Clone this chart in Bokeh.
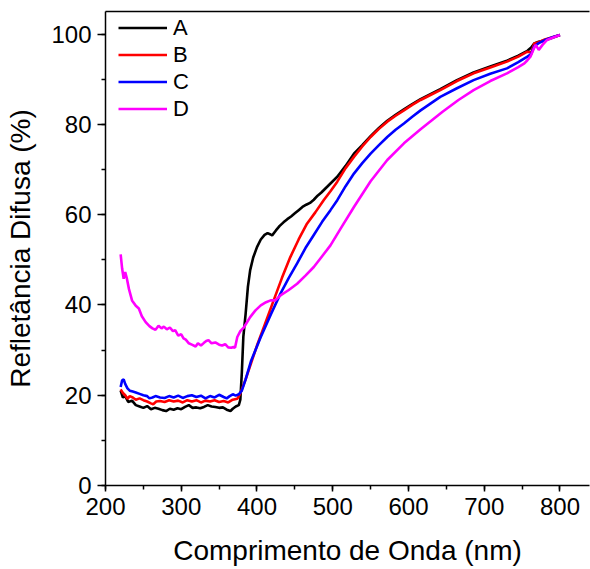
from bokeh.plotting import figure
from bokeh.models import LinearAxis, SingleIntervalTicker, FixedTicker, Legend, LegendItem, Range1d
from bokeh.embed import file_html
from bokeh.resources import INLINE

# ---- data ----
wl_A = [220, 223, 226, 230, 235, 240, 245, 250, 255, 260, 265, 270, 275, 280, 285, 290, 295, 300,
        305, 310, 315, 320, 325, 330, 335, 340, 345, 350, 355, 360, 365, 368, 372, 376, 378, 380,
        382, 385, 388, 391, 395, 400, 405, 410, 414, 418, 420, 425, 430, 435, 440, 445, 450, 455,
        460, 465, 470, 475, 480, 485, 497, 506, 517, 528, 539, 550, 561, 572, 583, 594, 605, 616,
        629, 642, 664, 686, 708, 730, 745, 757, 762, 766, 772, 779, 790, 800]
refl_A = [21.0, 19.5, 19.8, 18.5, 18.8, 17.8, 17.5, 17.2, 17.6, 16.9, 17.2, 17.0, 16.7, 16.5, 17.0,
          16.8, 17.1, 16.9, 17.4, 17.8, 17.2, 17.3, 17.1, 17.4, 17.8, 17.5, 17.4, 17.2, 17.3, 16.8,
          16.5, 17.0, 17.5, 17.8, 19.0, 25.0, 33.0, 38.0, 44.0, 47.7, 50.5, 52.8, 54.5, 55.5, 55.9,
          55.6, 55.4, 56.5, 57.5, 58.3, 59.0, 59.6, 60.3, 61.0, 61.7, 62.2, 62.6, 63.3, 64.2, 64.9,
          66.9, 68.4, 70.8, 73.5, 75.4, 77.4, 79.2, 80.8, 82.1, 83.3, 84.5, 85.6, 86.7, 87.8, 89.8,
          91.5, 92.8, 94.1, 95.2, 96.3, 97.0, 97.9, 98.3, 98.6, 99.2, 99.8]

wl_B = [220, 223, 226, 229, 232, 236, 240, 245, 250, 255, 260, 263, 267, 272, 278, 284, 290, 296,
        302, 308, 314, 320, 326, 332, 338, 344, 350, 356, 362, 368, 374, 378, 385, 392, 400, 410,
        422, 433, 444, 455, 466, 477, 488, 497, 506, 517, 528, 539, 550, 561, 572, 583, 594, 605,
        616, 629, 642, 664, 686, 708, 730, 745, 757, 762, 766, 772, 780, 790, 800]
refl_B = [21.3, 20.5, 20.0, 19.2, 19.8, 19.5, 19.0, 19.3, 18.9, 18.6, 18.2, 18.0, 18.6, 18.7, 18.5,
          18.9, 18.6, 18.8, 18.4, 18.9, 18.6, 18.9, 18.4, 18.8, 18.6, 18.9, 18.5, 18.7, 18.4, 19.0,
          19.2, 20.4, 23.5, 27.0, 31.0, 35.5, 41.0, 46.0, 50.6, 54.5, 58.0, 60.5, 63.2, 65.2, 67.3,
          70.3, 72.8, 75.1, 77.2, 79.0, 80.6, 81.9, 83.1, 84.3, 85.4, 86.5, 87.6, 89.6, 91.3, 92.6,
          93.9, 95.0, 96.1, 95.9, 97.9, 98.2, 98.8, 99.3, 99.8]

wl_C = [220, 222, 224, 226, 229, 232, 236, 240, 245, 250, 255, 258, 262, 266, 272, 278, 284, 290,
        296, 302, 308, 314, 320, 326, 332, 338, 344, 350, 356, 360, 364, 368, 372, 376, 380, 385,
        392, 405, 418, 431, 442, 453, 464, 475, 486, 497, 506, 517, 528, 539, 550, 561, 572, 583,
        594, 605, 616, 629, 642, 664, 686, 708, 730, 745, 757, 762, 766, 772, 782, 792, 800]
refl_C = [21.8, 23.3, 23.5, 22.5, 21.5, 21.0, 20.8, 20.6, 20.3, 20.0, 19.8, 19.3, 19.5, 19.8, 19.5,
          19.4, 19.8, 19.5, 19.9, 19.4, 19.8, 20.0, 19.6, 19.9, 19.3, 19.8, 19.5, 20.1, 19.6, 19.3,
          19.8, 20.2, 19.9, 20.2, 21.0, 23.5, 27.5, 32.9, 37.8, 42.5, 46.0, 49.2, 52.6, 55.5, 58.4,
          61.0, 63.2, 66.3, 69.1, 71.4, 73.5, 75.4, 77.2, 78.8, 80.2, 81.7, 83.1, 84.6, 86.1, 88.0,
          89.8, 91.2, 92.4, 93.8, 95.0, 95.6, 97.3, 98.0, 98.8, 99.4, 99.8]

wl_D = [220, 222, 224, 226, 228, 231, 235, 240, 244, 248, 253, 258, 262, 266, 270, 274, 277, 281,
        285, 289, 292, 296, 300, 303, 306, 310, 314, 319, 322, 326, 330, 333, 336, 340, 345, 350,
        354, 358, 362, 366, 369, 371, 374, 378, 383, 391, 398, 405, 412, 418, 424, 431, 442, 453,
        464, 475, 486, 497, 510, 528, 550, 572, 594, 616, 645, 666, 686, 708, 730, 745, 753, 757,
        761, 765, 768, 772, 777, 783, 792, 800]
refl_D = [51.2, 48.0, 45.8, 47.3, 46.0, 43.5, 41.0, 39.8, 39.2, 37.5, 36.2, 35.3, 34.8, 34.5, 35.4,
          34.8, 35.2, 34.6, 35.0, 34.2, 34.4, 33.2, 33.5, 32.6, 32.3, 31.5, 31.2, 30.8, 31.5, 31.0,
          31.6, 32.0, 32.2, 31.5, 31.7, 31.2, 31.0, 31.3, 30.6, 30.5, 30.7, 30.5, 32.9, 34.2, 35.1,
          37.3, 38.8, 39.9, 40.6, 41.0, 41.0, 42.1, 43.3, 44.7, 46.5, 48.4, 50.8, 53.2, 56.8, 61.7,
          67.4, 72.1, 75.8, 78.9, 82.8, 85.4, 87.6, 89.6, 91.3, 92.7, 93.5, 94.2, 95.0, 96.6, 97.6,
          96.5, 97.6, 98.7, 99.3, 99.8]

series_names = ["A", "B", "C", "D"]
series_colors = ["#000000", "#ff0000", "#0000ff", "#ff00ff"]
x_ticks_interval = 100
y_ticks_interval = 20

FONT = "Liberation Sans"

p = figure(width=590, height=569, output_backend="svg", toolbar_location=None,
           x_range=Range1d(200, 839), y_range=Range1d(0, 105),
           x_axis_label="Comprimento de Onda (nm)", y_axis_label="Refletância Difusa (%)")
p.min_border_left = 105
p.min_border_right = 1
p.min_border_top = 11
p.min_border_bottom = 84
p.outline_line_color = None
p.xgrid.visible = False
p.ygrid.visible = False
p.background_fill_color = "white"
p.border_fill_color = "white"

p.xaxis.ticker = SingleIntervalTicker(interval=x_ticks_interval, num_minor_ticks=2)
p.yaxis.ticker = SingleIntervalTicker(interval=y_ticks_interval, num_minor_ticks=2)
for ax in (p.xaxis[0], p.yaxis[0]):
    ax.axis_line_color = "#000000"
    ax.axis_line_width = 1.5
    ax.major_tick_line_color = "#000000"
    ax.minor_tick_line_color = "#000000"
    ax.major_tick_line_width = 1.5
    ax.minor_tick_line_width = 1.5
    ax.major_tick_in = 0
    ax.minor_tick_in = 0
    ax.major_label_text_font = FONT
    ax.major_label_text_font_size = "24px"
    ax.major_label_text_color = "#000000"
    ax.axis_label_text_font = FONT
    ax.axis_label_text_font_size = "28px"
    ax.axis_label_text_font_style = "normal"
    ax.axis_label_text_color = "#000000"
p.yaxis.major_tick_out = 8
p.yaxis.minor_tick_out = 4
p.xaxis.major_tick_out = 6
p.xaxis.minor_tick_out = 4
p.yaxis.major_label_standoff = 6
p.xaxis.major_label_standoff = 6
p.yaxis.axis_label_standoff = 12
p.xaxis.axis_label_standoff = 17

top = LinearAxis(ticker=FixedTicker(ticks=[]), major_tick_line_color=None,
                 minor_tick_line_color=None, axis_line_color="#000000", axis_line_width=1.5)
p.add_layout(top, "above")

renderers = []
for xs, ys, col in zip([wl_A, wl_B, wl_C, wl_D], [refl_A, refl_B, refl_C, refl_D], series_colors):
    r = p.line(xs, ys, line_color=col, line_width=2.6)
    renderers.append(r)

legend = Legend(items=[LegendItem(label=n, renderers=[r]) for n, r in zip(series_names, renderers)],
                location=(13, 363), margin=0, padding=0, spacing=0,
                glyph_width=49, glyph_height=27, label_height=27, label_standoff=6,
                label_text_font=FONT, label_text_font_size="22px", label_text_color="#000000",
                border_line_color=None, background_fill_alpha=0)
p.add_layout(legend, "center")

open("out.html", "w").write(file_html(p, INLINE))
